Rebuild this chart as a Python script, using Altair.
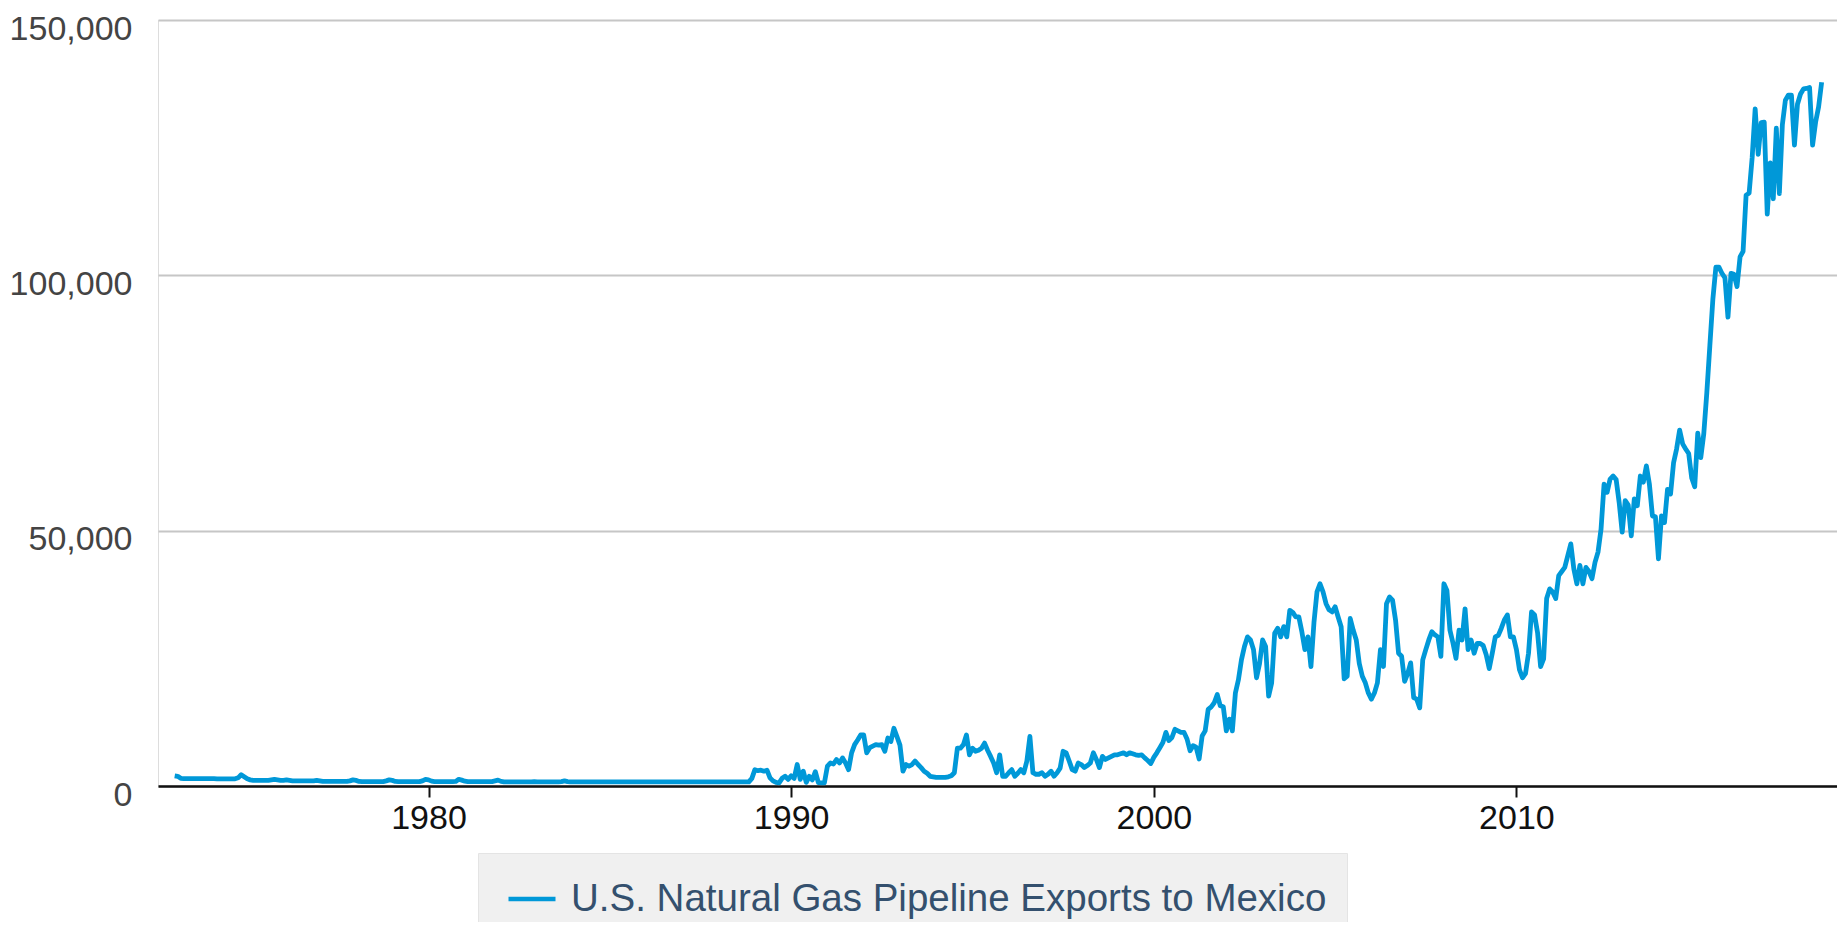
import altair as alt
import pandas as pd

SERIES = "U.S. Natural Gas Pipeline Exports to Mexico"
START_YEAR = 1973

v1970s = [
    2000, 1900, 1500, 1450, 1450, 1450, 1450, 1450, 1450, 1450, 1450, 1450,
    1450, 1450, 1400, 1400, 1400, 1400, 1400, 1400, 1400, 1600, 2200, 1800,
    1400, 1200, 1100, 1100, 1100, 1100, 1100, 1100, 1200, 1300, 1200, 1100,
    1100, 1200, 1100, 1000, 1000, 1000, 1000, 1000, 1000, 1000, 1000, 1100,
    1000, 900, 900, 900, 900, 900, 900, 900, 900, 900, 1000, 1200,
    1100, 900, 850, 850, 850, 850, 850, 850, 850, 850, 1000, 1200,
    1100, 900, 850, 850, 850, 850, 850, 850, 850, 850, 1000, 1300,
]
v1980s = [
    1200, 950, 850, 850, 850, 850, 850, 850, 850, 900, 1300, 1150,
    950, 850, 850, 850, 850, 850, 850, 850, 850, 850, 1000, 1150,
    900, 800, 800, 800, 800, 800, 800, 800, 800, 800, 800, 850,
    800, 800, 800, 800, 800, 800, 800, 800, 850, 1000, 850, 800,
    800, 800, 800, 800, 800, 800, 800, 800, 800, 800, 800, 800,
    800, 800, 800, 800, 800, 800, 800, 800, 800, 800, 800, 800,
    800, 800, 800, 800, 800, 800, 800, 800, 800, 800, 800, 800,
    800, 800, 800, 800, 800, 800, 800, 800, 800, 800, 800, 800,
    800, 800, 800, 800, 800, 800, 800, 800, 800, 800, 800, 1500,
    3200, 3000, 3100, 2900, 3100, 1600, 1000, 700, 600, 1500, 1900, 1300,
]
v1990s = [
    2000, 1500, 4200, 1300, 2900, 700, 1900, 1200, 2800, 650, 600, 600,
    3900, 4500, 4300, 5200, 4500, 5500, 4500, 3200, 6500, 8100, 9000, 10000,
    10000, 6500, 7500, 7800, 8100, 8000, 8100, 6800, 9400, 8700, 11300, 9700,
    8000, 2900, 4200, 3900, 4200, 4900, 4200, 3600, 2900, 2500, 1900, 1800,
    1700, 1700, 1700, 1700, 1800, 2000, 2600, 7400, 7400, 8100, 10000, 6100,
    7400, 6800, 7000, 7400, 8400, 7000, 5800, 4500, 2600, 6100, 1900, 1900,
    2600, 3200, 1900, 2500, 3200, 2600, 4900, 9700, 2600, 2300, 2300, 2600,
    1900, 2300, 2900, 1900, 2600, 3500, 6800, 6500, 4900, 3200, 2900, 4500,
    4200, 3600, 4000, 4500, 6500, 5200, 3600, 5800, 5200, 5500, 5800, 6100,
    6100, 6300, 6500, 6100, 6500, 6300, 6100, 6000, 6100, 5500, 5000, 4400,
]
v2000s = [
    5600, 6500, 7500, 8500, 10500, 8900, 9500, 11100, 10800, 10500, 10500, 9200,
    6900, 7900, 7600, 5300, 9800, 10800, 15000, 15500, 16300, 17900, 15700, 15500,
    10800, 13100, 10800, 18200, 20800, 24700, 27300, 29200, 28600, 26700, 21200, 24000,
    28600, 27300, 17600, 20200, 29900, 30900, 29200, 31200, 29200, 34400, 34000, 33100,
    33100, 30200, 26700, 29200, 23400, 32000, 38000, 39600, 38000, 35700, 34500, 34100,
    35100, 33100, 31200, 21000, 21500, 32800, 30500, 28600, 24000, 21500, 20200, 18200,
    17000, 18200, 20200, 26700, 23400, 35700, 37000, 36400, 32500, 26000, 25400, 20500,
    22000, 24100, 17300, 17000, 15300, 24700, 26700, 28600, 30200, 29600, 29200, 25400,
    39600, 38300, 30500, 28000, 25000, 30500, 28600, 34700, 26700, 28600, 26000, 27900,
    27900, 27500, 25700, 23000, 26000, 29200, 29500, 30900, 32500, 33500, 29200, 29200,
]
v2010s = [
    26700, 22800, 21200, 22000, 26000, 34100, 33500, 30000, 23400, 24900, 36700, 38600,
    38000, 36700, 41200, 42000, 42800, 45100, 47400, 42500, 39600, 43200, 39600, 42800,
    42000, 40600, 43800, 45800, 50300, 59100, 57500, 60100, 60700, 60000, 55500, 49700,
    55900, 55000, 49000, 56200, 54900, 60700, 59500, 62700, 59100, 52900, 52700, 44500,
    52900, 51600, 58100, 57200, 63300, 66000, 69700, 67000, 66000, 65100, 60300, 58600,
    69100, 64300, 69000, 77000, 86200, 95300, 101600, 101600, 100400, 99500, 91800, 100400,
    100200, 97800, 103600, 104700, 115700, 116100, 123000, 132600, 123700, 129900, 130000, 112000,
    122000, 115000, 128800, 116000, 129500, 134300, 135300, 135300, 125500, 133500, 135500, 136500,
    136600, 136800, 125500, 130000, 133000, 137800,
]

y_ticks = [0, 50000, 100000, 150000]
x_ticks = [1980, 1990, 2000, 2010]
x_domain = [1972.54, 2018.84]

values = v1970s + v1980s + v1990s + v2000s + v2010s
df = pd.DataFrame({
    "t": [START_YEAR + i / 12 for i in range(len(values))],
    "v": values,
    "series": [SERIES] * len(values),
})

FONT = "Liberation Sans"
BLUE = "#0098d8"

chart = (
    alt.Chart(df)
    .mark_line(strokeWidth=4.8, strokeJoin="round", strokeCap="butt")
    .encode(
        x=alt.X(
            "t:Q",
            scale=alt.Scale(domain=x_domain, nice=False, zero=False),
            axis=alt.Axis(
                values=x_ticks, format="d", title=None, grid=False,
                domain=True, domainColor="#111111", domainWidth=2.5,
                ticks=True, tickColor="#111111", tickWidth=2, tickSize=11,
                labelFont=FONT, labelFontSize=34, labelColor="#111111",
                labelPadding=4,
            ),
        ),
        y=alt.Y(
            "v:Q",
            scale=alt.Scale(domain=[0, 150000], nice=False),
            axis=alt.Axis(
                values=y_ticks, format=",d", title=None, grid=True,
                gridColor="#c6c6c6", gridWidth=2, domain=False, ticks=False,
                labelFont=FONT, labelFontSize=34, labelColor="#444444",
                labelPadding=26, labelOffset=9,
            ),
        ),
        color=alt.Color(
            "series:N",
            scale=alt.Scale(domain=[SERIES], range=[BLUE]),
            legend=alt.Legend(
                title=None, orient="none", legendX=320, legendY=833,
                fillColor="#f0f0f0", strokeColor="#e4e4e4", padding=20,
                symbolType="stroke", symbolSize=2209, symbolStrokeWidth=4.5,
                symbolStrokeColor=BLUE, symbolOffset=8,
                labelFont=FONT, labelFontSize=38.5, labelColor="#34506e",
                labelOffset=13, labelLimit=1200,
            ),
        ),
    )
    .properties(
        width=1679,
        height=766,
        padding={"left": 150, "top": 12, "right": 0, "bottom": 136},
        autosize=alt.AutoSizeParams(type="none"),
    )
    .configure_view(stroke=None)
    .configure(background="white")
)

chart.save("out.html", embed_options={"renderer": "svg", "actions": False})
